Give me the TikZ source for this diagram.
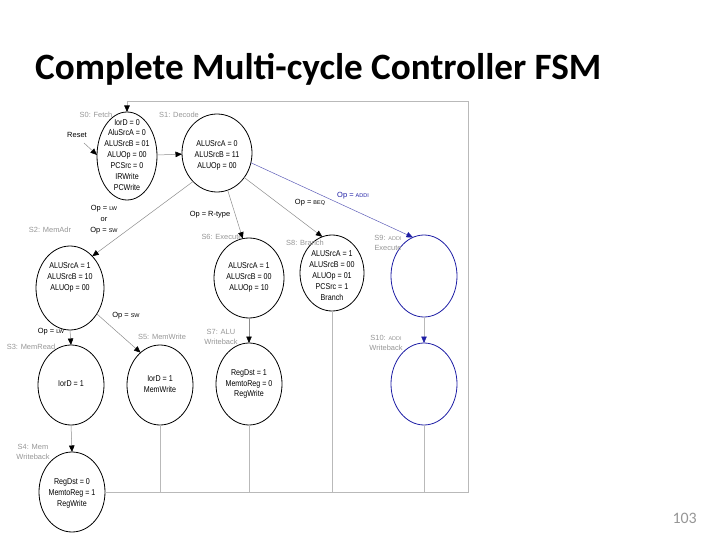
\documentclass[tikz,border=0pt]{standalone}
\usepackage{fontspec}
\setmainfont{Liberation Sans}
\newfontfamily\narrowf[FakeStretch=0.84]{Liberation Sans}
\newfontfamily\titlef{Carlito}
\usetikzlibrary{shapes.geometric,arrows.meta}
\definecolor{lblgray}{RGB}{150,150,150}
\definecolor{trgray}{RGB}{140,140,140}
\definecolor{retgray}{RGB}{185,185,185}
\definecolor{fsmblue}{RGB}{30,30,165}
\definecolor{bluelin}{RGB}{95,95,185}
\newcommand\smallop[1]{{\fontsize{5.5}{6}\selectfont #1}}
\begin{document}
\begin{tikzpicture}[x=1bp,y=-1bp,
  st/.style={draw=black, line width=0.8bp, ellipse, inner sep=0pt, outer sep=0pt},
  bst/.style={st, draw=fsmblue},
  stxt/.style={align=center, inner sep=0pt, font=\narrowf\fontsize{8.5}{11}\selectfont},
  slab/.style={text=lblgray, align=center, inner sep=0pt, font=\fontsize{7.5}{10}\selectfont},
  elab/.style={align=center, inner sep=0pt, font=\fontsize{7.5}{11}\selectfont},
  tr/.style={draw=trgray, line width=0.5bp, -{Triangle[width=5.5bp,length=6.5bp,color=black]}},
  btr/.style={tr, -{Triangle[width=5.5bp,length=6.5bp,color=fsmblue]}},
  ret/.style={draw=retgray, line width=0.6bp}
]
\useasboundingbox (0,0) rectangle (720,540);

% title and page number
\node[anchor=base west, inner sep=0pt, font=\titlef\bfseries\fontsize{37.3}{40}\selectfont] (title) at (35,80) {Complete Multi-cycle Controller FSM};
\node[anchor=base east, inner sep=0pt, text=lblgray, font=\titlef\fontsize{16}{18}\selectfont] (pg) at (697,523) {103};

% states
\node[st, minimum width=60bp, minimum height=88bp] (S0) at (127,156) {};
\node[stxt] (S0t) at (127,155) {IorD = 0\\AluSrcA = 0\\ALUSrcB = 01\\ALUOp = 00\\PCSrc = 0\\IRWrite\\PCWrite};

\node[st, minimum width=70bp, minimum height=78bp] (S1) at (217,153) {};
\node[stxt] (S1t) at (217,155) {ALUSrcA = 0\\ALUSrcB = 11\\ALUOp = 00};

\node[st, minimum width=68bp, minimum height=84bp] (S2) at (70,288) {};
\node[stxt] (S2t) at (70,277) {ALUSrcA = 1\\ALUSrcB = 10\\ALUOp = 00};

\node[st, minimum width=70bp, minimum height=80bp] (S6) at (249,278) {};
\node[stxt] (S6t) at (249,277) {ALUSrcA = 1\\ALUSrcB = 00\\ALUOp = 10};

\node[st, minimum width=64bp, minimum height=76bp] (S8) at (332,273) {};
\node[stxt] (S8t) at (332,276) {ALUSrcA = 1\\ALUSrcB = 00\\ALUOp = 01\\PCSrc = 1\\Branch};

\node[bst, minimum width=66bp, minimum height=82bp] (S9) at (424,276) {};

\node[st, minimum width=66bp, minimum height=80bp] (S3) at (71,385) {};
\node[stxt] (S3t) at (71,384) {IorD = 1};

\node[st, minimum width=66bp, minimum height=80bp] (S5) at (160,385) {};
\node[stxt] (S5t) at (160,384) {IorD = 1\\MemWrite};

\node[st, minimum width=66bp, minimum height=82bp] (S7) at (249,384) {};
\node[stxt] (S7t) at (249,384) {RegDst = 1\\MemtoReg = 0\\RegWrite};

\node[bst, minimum width=66bp, minimum height=82bp] (S10) at (424,384) {};

\node[st, minimum width=66bp, minimum height=80bp] (S4) at (72,492) {};
\node[stxt] (S4t) at (72,493) {RegDst = 0\\MemtoReg = 1\\RegWrite};

% state labels
\node[slab] (L0) at (96,115) {S0: Fetch};
\node[slab] (L1) at (179,115) {S1: Decode};
\node[slab] (L2) at (50,230) {S2: MemAdr};
\node[slab] (L6) at (222,237) {S6: Execute};
\node[slab] (L8) at (305,243) {S8: Branch};
\node[slab] (L9) at (388,243) {S9: \smallop{ADDI}\\Execute};
\node[slab] (L3) at (31,347) {S3: MemRead};
\node[slab] (L5) at (162,337) {S5: MemWrite};
\node[slab] (L7) at (221,337) {S7: ALU\\Writeback};
\node[slab] (L10) at (386,343) {S10: \smallop{ADDI}\\Writeback};
\node[slab] (L4) at (33,452) {S4: Mem\\Writeback};

% edge labels
\node[elab] (reset) at (77,135) {Reset};
\node[elab] (e12) at (104,220) {Op = \smallop{LW}\\or\\Op = \smallop{SW}};
\node[elab] (e16) at (210,215) {Op = R-type};
\node[elab] (e18) at (310,203) {Op = \smallop{BEQ}};
\node[elab, text=fsmblue] (e19) at (353,196) {Op = \smallop{ADDI}};
\node[elab] (e23) at (51,332) {Op = \smallop{LW}};
\node[elab] (e25) at (126,316) {Op = \smallop{SW}};

% return path
\coordinate (br) at (468,492);
\coordinate (tr) at (468,101);
\draw[ret] (S5.south) -- (S5.south |- br);
\draw[ret] (S7.south) -- (S7.south |- br);
\draw[ret] (S8.south) -- (S8.south |- br);
\draw[ret] (S10.south) -- (S10.south |- br);
\draw[ret, -{Triangle[width=5.5bp,length=6.5bp,color=black]}] (S4.east) -- (br) -- (tr) -- (S0.north |- tr) -- (S0.north);

% transitions
\coordinate (rs) at (84,143);
\draw[tr] (rs) -- (S0.178);
\draw[tr] (S0) -- (S1);
\draw[tr] (S1.230) -- (S2.55);
\draw[tr] (S1.286) -- (S6.99);
\draw[tr] (S1.318) -- (S8.105);
\draw[btr, draw=bluelin] (S1.344) -- (S9.106);
\draw[tr] (S2.south) -- (S3.north);
\draw[tr] (S2.316) -- (S5.121);
\draw[tr] (S3.south) -- (S4.north);
\draw[tr] (S6.south) -- (S7.north);
\draw[btr, draw=retgray] (S9.south) -- (S10.north);
\end{tikzpicture}
\end{document}
